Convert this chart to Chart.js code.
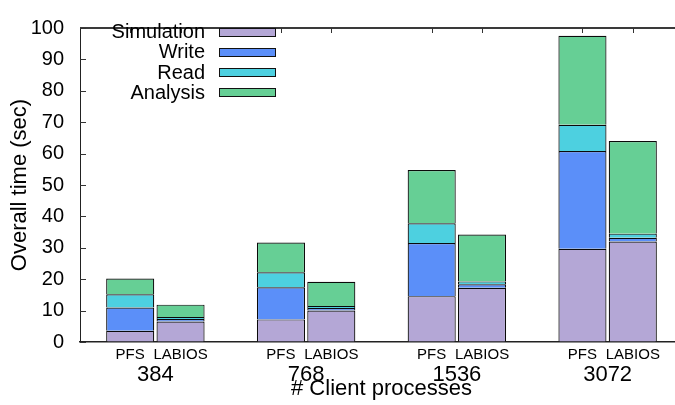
<!DOCTYPE html>
<html>
<head>
<meta charset="utf-8">
<script src="https://cdn.jsdelivr.net/npm/chart.js@4/dist/chart.umd.min.js"></script>
<style>
  html, body { margin: 0; padding: 0; background: #fff; overflow: hidden; width: 675px; height: 405px; }
  #wrap { width: 690px; height: 405px; }
</style>
</head>
<body>
<div id="wrap"><canvas id="c" width="690" height="405"></canvas></div>
<script>
// Client process counts (one group of bars each)
const groups = ['384', '768', '1536', '3072'];
// Systems compared inside every group
const systems = ['PFS', 'LABIOS'];
// Phases stacked bottom to top
const phases = ['Simulation', 'Write', 'Read', 'Analysis'];

// Seconds spent per phase, PFS
const pfsSimulation = [3.6, 7.2, 14.6, 29.7];
const pfsWrite      = [7.4, 10.2, 16.9, 31.1];
const pfsRead       = [4.2, 4.8, 6.3, 8.4];
const pfsAnalysis   = [5.0, 9.5, 17.0, 28.3];

// Seconds spent per phase, LABIOS
const labiosSimulation = [6.5, 10.0, 17.3, 32.0];
const labiosWrite      = [0.8, 0.8, 1.1, 1.2];
const labiosRead       = [0.7, 0.7, 0.9, 1.3];
const labiosAnalysis   = [3.9, 7.7, 14.9, 29.5];

// Y axis tick values
const yTicks = [0, 10, 20, 30, 40, 50, 60, 70, 80, 90, 100];

const phaseColors = ['#b4a7d6', '#5b8ff9', '#4dd0e0', '#66cf95'];
const FONT = "'Liberation Sans', Arial, Helvetica, sans-serif";

const seriesBySystem = {
  PFS: [pfsSimulation, pfsWrite, pfsRead, pfsAnalysis],
  LABIOS: [labiosSimulation, labiosWrite, labiosRead, labiosAnalysis]
};

const datasets = [];
systems.forEach(sys => {
  phases.forEach((ph, i) => {
    datasets.push({
      label: ph,
      stack: sys,
      data: seriesBySystem[sys][i],
      backgroundColor: phaseColors[i],
      borderColor: '#0a0a0a',
      borderWidth: 1.2,
      categoryPercentage: 0.668,
      barPercentage: 0.955
    });
  });
});

// Frame, inward ticks, per-bar system labels and the key
const decor = {
  id: 'decor',
  afterDraw(chart) {
    const { ctx, chartArea: a } = chart;
    const y = chart.scales.y;
    ctx.save();

    // top border
    ctx.strokeStyle = '#3a3a3a';
    ctx.lineWidth = 2;
    ctx.beginPath();
    ctx.moveTo(a.left, a.top);
    ctx.lineTo(a.right + 10, a.top);
    ctx.stroke();

    // inward y ticks
    ctx.strokeStyle = '#333';
    ctx.lineWidth = 1;
    yTicks.forEach(v => {
      const py = Math.round(y.getPixelForValue(v)) + 0.5;
      ctx.beginPath();
      ctx.moveTo(a.left, py);
      ctx.lineTo(a.left + 6, py);
      ctx.stroke();
    });

    // mirrored x ticks on the top border, and system names under each bar
    ctx.font = '15px ' + FONT;
    ctx.fillStyle = '#000';
    ctx.textAlign = 'center';
    ctx.textBaseline = 'middle';
    systems.forEach(sys => {
      const idx = chart.data.datasets.findIndex(d => d.stack === sys);
      const meta = chart.getDatasetMeta(idx);
      meta.data.forEach(bar => {
        const px = Math.round(bar.x) + 0.5;
        ctx.beginPath();
        ctx.moveTo(px, a.top);
        ctx.lineTo(px, a.top + 5);
        ctx.stroke();
        ctx.fillText(sys, bar.x, a.bottom + 13);
      });
    });

    // key: right-aligned names with swatches to their right
    ctx.font = '20px ' + FONT;
    ctx.textAlign = 'right';
    phases.forEach((ph, i) => {
      const cy = 32.5 + i * 20.3;
      ctx.fillStyle = '#000';
      ctx.fillText(ph, 205, cy);
      ctx.fillStyle = phaseColors[i];
      ctx.fillRect(219.5, Math.round(cy) - 4.5, 56, 8);
      ctx.strokeStyle = '#111';
      ctx.strokeRect(219.5, Math.round(cy) - 4.5, 56, 8);
    });

    ctx.restore();
  }
};

new Chart(document.getElementById('c'), {
  type: 'bar',
  data: { labels: groups, datasets },
  options: {
    responsive: false,
    animation: false,
    devicePixelRatio: 1,
    layout: { padding: { top: 15, right: 7, left: 0, bottom: 0 } },
    plugins: {
      legend: { display: false },
      tooltip: { enabled: false }
    },
    scales: {
      x: {
        stacked: true,
        afterFit: s => { s.height = 63; },
        grid: { display: true, drawOnChartArea: false, drawTicks: false },
        border: { display: true, color: '#222', width: 1.5 },
        ticks: {
          color: '#000',
          font: { family: FONT, size: 22, lineHeight: 1 },
          padding: 22,
          maxRotation: 0,
          autoSkip: false
        },
        title: {
          display: true,
          text: '# Client processes',
          color: '#000',
          font: { family: FONT, size: 22, lineHeight: 1 },
          padding: { top: 0, bottom: 5.5 }
        }
      },
      y: {
        stacked: true,
        min: 0,
        max: 100,
        afterFit: s => { s.width = 80; },
        afterBuildTicks: s => { s.ticks = yTicks.map(v => ({ value: v })); },
        grid: { display: true, drawOnChartArea: false, drawTicks: false },
        border: { display: true, color: '#222', width: 1 },
        ticks: {
          color: '#000',
          font: { family: FONT, size: 20 },
          padding: 16
        },
        title: {
          display: true,
          text: 'Overall time (sec)',
          color: '#000',
          font: { family: FONT, size: 22, lineHeight: 1 },
          padding: { top: 9, bottom: 0 }
        }
      }
    }
  },
  plugins: [decor]
});
</script>
</body>
</html>
